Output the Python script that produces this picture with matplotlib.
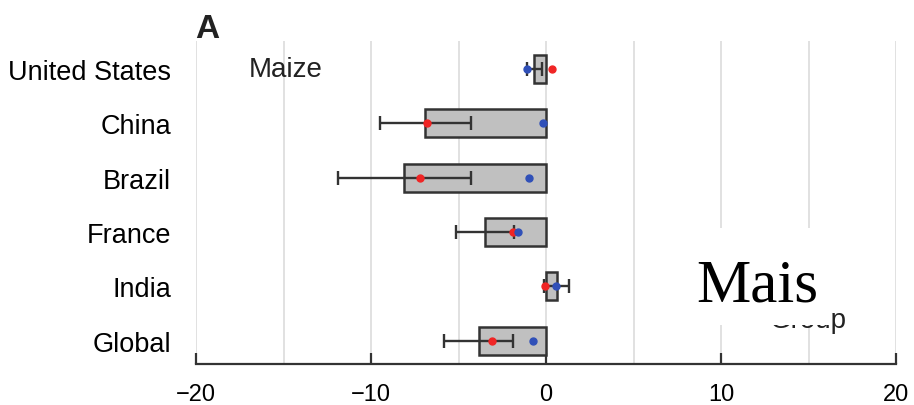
import matplotlib.pyplot as plt
from matplotlib.patches import Rectangle
import numpy as np

plt.rcParams['font.family'] = ['Liberation Sans', 'DejaVu Sans']

countries = ['United States', 'China', 'Brazil', 'France', 'India', 'Global']
bar_vals = [-0.67, -6.9, -8.1, -3.5, 0.6, -3.85]
bar_err = [0.42, 2.6, 3.8, 1.65, 0.72, 1.97]
red_vals = [0.35, -6.8, -7.2, -1.9, -0.05, -3.1]
blue_vals = [-1.1, -0.2, -0.95, -1.6, 0.55, -0.75]
major_ticks = [-20, -10, 0, 10, 20]
grid_ticks = [-20, -15, -10, -5, 0, 5, 10, 15, 20]

W, H = 914, 406
fig = plt.figure(figsize=(W / 100, H / 100), dpi=100)
ax = fig.add_axes([196 / W, 1 - 365 / H, 700 / W, 323 / H])

y = np.arange(len(countries))

for g in grid_ticks:
    ax.axvline(g, color='#dcdcdc', lw=1.2, zorder=0)

ax.barh(y, bar_vals, height=0.52, color='#c0c0c0', edgecolor='#333333',
        linewidth=1.8, zorder=2)
ax.errorbar(bar_vals, y, xerr=bar_err, fmt='none', ecolor='#333333',
            elinewidth=1.7, capsize=5, capthick=1.7, zorder=3)
ax.plot(red_vals, y, 'o', color='#f02525', ms=5, zorder=4)
ax.plot(blue_vals, y, 'o', color='#3050b8', ms=5, zorder=4)

ax.set_xlim(-20, 20)
ax.set_ylim(5.43, -0.515)
ax.set_xticks(major_ticks)
ax.set_xticklabels(['\u221220', '\u221210', '0', '10', '20'], fontsize=17)
ax.set_yticks(y)
ax.set_yticklabels(countries, fontsize=19.5)
ax.tick_params(axis='y', length=0, pad=18)
ax.tick_params(axis='x', direction='in', length=8, width=1.6,
               color='#333333', pad=14)

for side in ['left', 'right', 'top']:
    ax.spines[side].set_visible(False)
ax.spines['bottom'].set_linewidth(1.6)
ax.spines['bottom'].set_color('#333333')

ax.text(-17.0, 0, 'Maize', fontsize=20, va='center', ha='left', color='#222222')
ax.text(17.2, 4.74, 'Group', fontsize=20, va='baseline', ha='right',
        color='#222222', zorder=1)

fig.text(195 / W, 1 - 38 / H, 'A', fontsize=24, fontweight='bold',
         ha='left', va='baseline', color='#222222')

# white label patch with the serif caption on top
ax.add_patch(Rectangle((660 / W, 1 - 326 / H), 170 / W, 97 / H,
                       transform=fig.transFigure, facecolor='white',
                       edgecolor='none', zorder=10, clip_on=False))
ax.text(696 / W, 1 - 301 / H, 'Mais', fontsize=44, family='Liberation Serif',
        ha='left', va='baseline', color='black', zorder=11,
        transform=fig.transFigure)

fig.savefig('out.png', dpi=100)
